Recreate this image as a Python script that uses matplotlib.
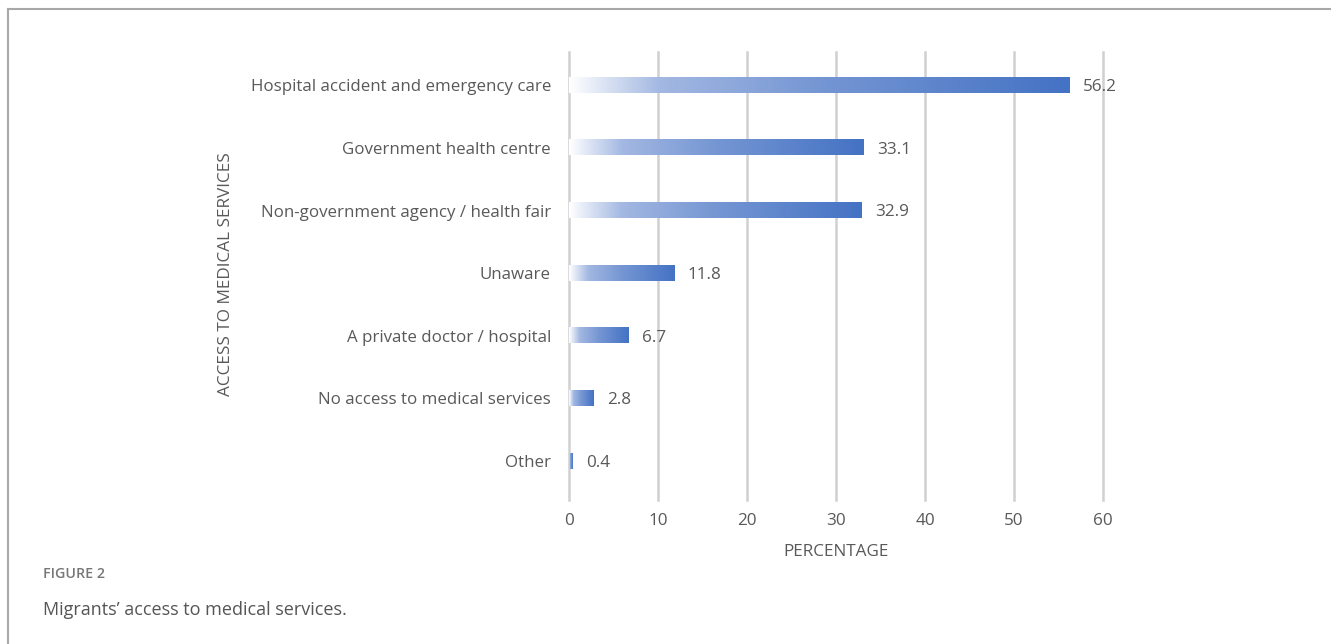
import numpy as np
import matplotlib
matplotlib.use("Agg")
import matplotlib.pyplot as plt
from matplotlib.colors import LinearSegmentedColormap
from matplotlib.lines import Line2D

categories = [
    "Hospital accident and emergency care",
    "Government health centre",
    "Non-government agency / health fair",
    "Unaware",
    "A private doctor / hospital",
    "No access to medical services",
    "Other",
]
values = [56.2, 33.1, 32.9, 11.8, 6.7, 2.8, 0.4]
x_ticks = [0, 10, 20, 30, 40, 50, 60]

FONT = ["Open Sans", "DejaVu Sans"]
TEXT = "#595959"
GRID = "#d0d0d0"

fig = plt.figure(figsize=(13.31, 6.44), dpi=100)
ax = fig.add_axes([0.4275, 0.2236, 0.4012, 0.6957])

cmap = LinearSegmentedColormap.from_list(
    "bar_grad", [(0.0, "#ffffff"), (0.18, "#a3b8e2"), (0.5, "#7596d3"), (1.0, "#4472c4")]
)
grad = np.linspace(0, 1, 256).reshape(1, -1)

bar_h = 0.24
for i, v in enumerate(values):
    ax.imshow(grad, cmap=cmap, aspect="auto", extent=(0, v, i + bar_h / 2, i - bar_h / 2),
              interpolation="bilinear", zorder=3)
    ax.text(v + 1.5, i + 0.03, f"{v}", va="center", ha="left", fontsize=12.3,
            color=TEXT, family=FONT, zorder=4)

ax.set_xlim(0, 60)
ax.set_ylim(6.62, -0.53)
ax.set_xticks(x_ticks)
ax.set_xticklabels([str(t) for t in x_ticks], family=FONT, fontsize=12.3, color=TEXT)
ax.set_yticks(range(len(categories)))
ax.set_yticklabels(categories, family=FONT, fontsize=12.2, color=TEXT)
ax.tick_params(axis="both", length=0)
ax.tick_params(axis="x", pad=9)
ax.tick_params(axis="y", pad=13)
for s in ax.spines.values():
    s.set_visible(False)
for t in x_ticks:
    ax.axvline(t, color=GRID, lw=1.8, zorder=1, clip_on=False)

ax.set_xlabel("PERCENTAGE", family=FONT, fontsize=12.3, color=TEXT, labelpad=11)
fig.text(0.1698, 0.574, "ACCESS TO MEDICAL SERVICES", rotation=90, ha="center", va="center",
         family=FONT, fontsize=12.3, color=TEXT)

# caption below the chart
fig.text(0.0323, 1 - 574 / 644, "FIGURE 2", family=FONT, fontsize=10.3, fontweight="semibold",
         color="#777777", va="center", ha="left")
fig.text(0.0323, 1 - 610 / 644, "Migrants\u2019 access to medical services.", family=FONT,
         fontsize=13, color="#555555", va="center", ha="left")

# frame lines along the top and left edges
fig.add_artist(Line2D([8 / 1331, 1.0], [1 - 9 / 644, 1 - 9 / 644], color="#a8a8a8", lw=1.5,
                      transform=fig.transFigure))
fig.add_artist(Line2D([8 / 1331, 8 / 1331], [0, 1 - 9 / 644], color="#a8a8a8", lw=1.5,
                      transform=fig.transFigure))

fig.savefig("out.png", dpi=100, facecolor="white")
